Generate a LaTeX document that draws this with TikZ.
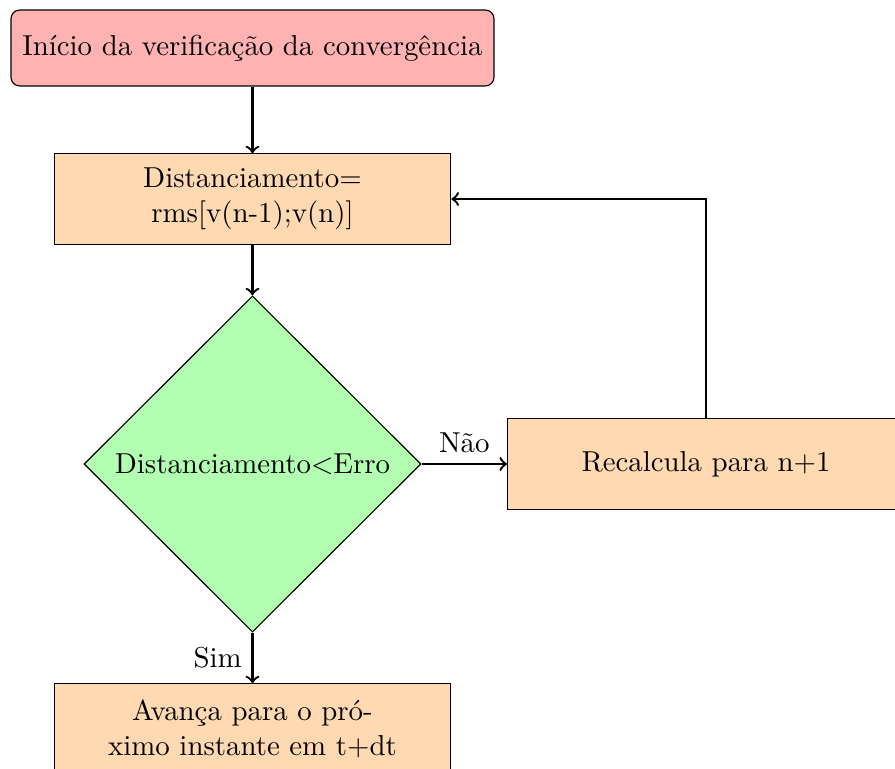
\documentclass[tikz,border=0pt]{standalone}
\usetikzlibrary{shapes.geometric,arrows}
\begin{document}
\begin{tikzpicture}[x=0.3466pt,y=-0.3466pt,
  startbox/.style={rectangle,rounded corners=3pt,draw=black,fill=red!30,
    minimum width=167.4pt,minimum height=26.3pt,inner sep=2pt},
  procbox/.style={rectangle,draw=black,fill=orange!30,text width=130pt,align=center,
    minimum width=137.5pt,minimum height=31.3pt,inner sep=2pt},
  decbox/.style={diamond,draw=black,fill=green!30,aspect=1,inner sep=0pt,
    minimum width=116.8pt,minimum height=116.5pt},
  conn/.style={->,thick}]
\useasboundingbox (0,0) rectangle (895,769);
\node[startbox] (ini) at (252.5,48) {Início da verificação da convergência};
\node[procbox] (dist) at (252.5,199) {Distanciamento=\\rms[v(n-1);v(n)]};
\node[decbox] (dec) at (252.5,464) {Distanciamento<Erro};
\node[procbox] (rec) at (706,464) {Recalcula para n+1};
\node[procbox] (ava) at (252.5,729) {Avança para o pró-\\ximo instante em t+dt};
\draw[conn] (ini) -- (dist);
\draw[conn] (dist) -- (dec);
\draw[conn] (dec.east) -- node[above] {Não} (rec.west);
\draw[conn] (dec.south) -- node[left] {Sim} (ava.north);
\draw[conn] (rec.north) |- (dist.east);
\end{tikzpicture}
\end{document}
